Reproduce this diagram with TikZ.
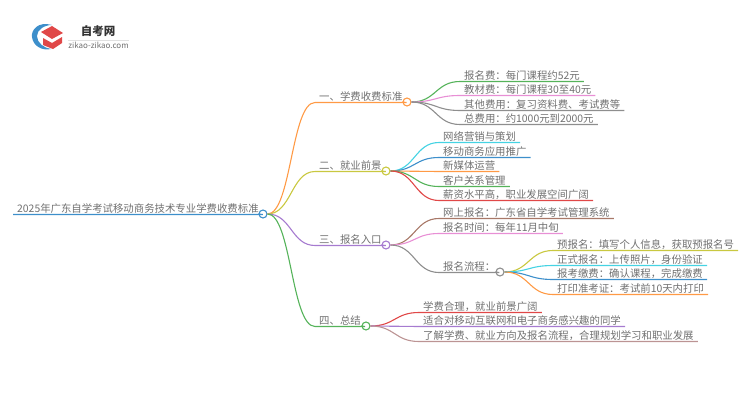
\documentclass[tikz,border=0pt]{standalone}
\usepackage{fontspec}
\setmainfont{Noto Sans CJK SC}
\usetikzlibrary{calc,positioning}

\definecolor{rootblue}{HTML}{3D8FCB}
\definecolor{morange}{HTML}{FF9A45}
\definecolor{molive}{HTML}{C9C840}
\definecolor{mpurple}{HTML}{A67BD0}
\definecolor{mgreen}{HTML}{55B35A}
\definecolor{mpink}{HTML}{E88FD5}
\definecolor{mgray}{HTML}{8E8E8E}
\definecolor{mcyan}{HTML}{45D3E3}
\definecolor{mred}{HTML}{E04848}
\definecolor{mbrown}{HTML}{A87868}
\definecolor{mrose}{HTML}{BC9494}
\definecolor{textgray}{HTML}{707070}

\tikzset{
  topic/.style={anchor=south west,inner xsep=4pt,inner ysep=.8pt,text height=9pt,text depth=1.2pt,
    font=\fontsize{10.4pt}{12pt}\selectfont,text=textgray},
  dotnode/.style={circle,draw=#1,fill=white,line width=1.1pt,minimum size=8pt,inner sep=0pt},
  linkline/.style={draw=#1,line width=1.1pt},
  bendline/.style={to path={let \p1=(\tikztostart),\p2=(\tikztotarget) in
    .. controls (\x1/2+\x2/2,\y1) and (\x1/2+\x2/2,\y2) .. (\tikztotarget)}}
}

\begin{document}
\begin{tikzpicture}[x=1pt,y=-1pt]
  \useasboundingbox (0,0) rectangle (750,410);

  \fill[rootblue] (52,25) .. controls (38,21) and (31,30) .. (32,37)
    .. controls (33,46) and (42,51) .. (51,49) .. controls (44,48) and (37,43) .. (37,36)
    .. controls (37,30) and (44,25) .. (52,25) -- cycle;
  \fill[mred] (41,32) -- (52,26) -- (63,33) -- (52,39) -- cycle;
  \fill[mred] (43,38) -- (52,43) -- (62,37) -- (62,43) -- (53,49) -- (43,45) -- cycle;
  \node[inner sep=0pt,text=black!80,font=\fontsize{11.5pt}{13pt}\selectfont\bfseries] (brand) at (98,31) {自考网};
  \node[inner sep=0pt,text=textgray,font=\fontsize{8pt}{9pt}\selectfont] (site) at (98.5,45) {zikao-zikao.com};
  \draw[black!12,line width=.6pt] ($(site.north west)+(0,-1)$) -- ($(site.north east)+(0,-1)$);

  \node[topic] (root) at (13,214.5) {2025年广东自学考试移动商务技术专业学费收费标准};
  \node[dotnode=rootblue] (rootDot) at (263,214) {};

  \node[topic] (fee) at (315,102.5) {一、学费收费标准};
  \node[dotnode=morange] (feeDot) at (407,102) {};
  \node[topic] (job) at (315,171.5) {二、就业前景};
  \node[dotnode=molive] (jobDot) at (386,171) {};
  \node[topic] (entry) at (315,245.5) {三、报名入口};
  \node[dotnode=mpurple] (entryDot) at (386,245) {};
  \node[topic] (sum) at (315,326.5) {四、总结};
  \node[dotnode=mgreen] (sumDot) at (366,326) {};

  \node[topic] (fee1) at (460,81.5) {报名费：每门课程约52元};
  \node[topic] (fee2) at (460,95.5) {教材费：每门课程30至40元};
  \node[topic] (fee3) at (460,110.5) {其他费用：复习资料费、考试费等};
  \node[topic] (fee4) at (460,124.5) {总费用：约1000元到2000元};

  \node[topic] (job1) at (439,142.5) {网络营销与策划};
  \node[topic] (job2) at (439,157.5) {移动商务应用推广};
  \node[topic] (job3) at (439,171.5) {新媒体运营};
  \node[topic] (job4) at (439,186.5) {客户关系管理};
  \node[topic] (job5) at (439,200.5) {薪资水平高，职业发展空间广阔};

  \node[topic] (entry1) at (439,218.5) {网上报名：广东省自学考试管理系统};
  \node[topic] (entry2) at (439,233.5) {报名时间：每年11月中旬};
  \node[topic] (entry3) at (439,272.5) {报名流程：};
  \node[dotnode=mgray] (flowDot) at (500,272) {};

  \node[topic] (flow1) at (553,250.5) {预报名：填写个人信息，获取预报名号};
  \node[topic] (flow2) at (553,265.5) {正式报名：上传照片，身份验证};
  \node[topic] (flow3) at (553,279.5) {报考缴费：确认课程，完成缴费};
  \node[topic] (flow4) at (553,294.5) {打印准考证：考试前10天内打印};

  \node[topic] (sum1) at (419,312.5) {学费合理，就业前景广阔};
  \node[topic] (sum2) at (419,326.5) {适合对移动互联网和电子商务感兴趣的同学};
  \node[topic] (sum3) at (419,341.5) {了解学费、就业方向及报名流程，合理规划学习和职业发展};

  \draw[linkline=rootblue] (root.south west) -- (root.south east) -- (rootDot.west);

  \draw[linkline=morange] (rootDot.east) to[bendline] (fee.south west) -- (fee.south east) -- (feeDot.west);
  \draw[linkline=molive] (rootDot.east) to[bendline] (job.south west) -- (job.south east) -- (jobDot.west);
  \draw[linkline=mpurple] (rootDot.east) to[bendline] (entry.south west) -- (entry.south east) -- (entryDot.west);
  \draw[linkline=mgreen] (rootDot.east) to[bendline] (sum.south west) -- (sum.south east) -- (sumDot.west);

  \draw[linkline=mgreen] (feeDot.east) to[bendline] (fee1.south west) -- (fee1.south east);
  \draw[linkline=mpink] (feeDot.east) to[bendline] (fee2.south west) -- (fee2.south east);
  \draw[linkline=mgray] (feeDot.east) to[bendline] (fee3.south west) -- (fee3.south east);
  \draw[linkline=mgray] (feeDot.east) to[bendline] (fee4.south west) -- (fee4.south east);

  \draw[linkline=mcyan] (jobDot.east) to[bendline] (job1.south west) -- (job1.south east);
  \draw[linkline=rootblue] (jobDot.east) to[bendline] (job2.south west) -- (job2.south east);
  \draw[linkline=morange] (jobDot.east) to[bendline] (job3.south west) -- (job3.south east);
  \draw[linkline=mgreen] (jobDot.east) to[bendline] (job4.south west) -- (job4.south east);
  \draw[linkline=mred] (jobDot.east) to[bendline] (job5.south west) -- (job5.south east);

  \draw[linkline=mbrown] (entryDot.east) to[bendline] (entry1.south west) -- (entry1.south east);
  \draw[linkline=mpink] (entryDot.east) to[bendline] (entry2.south west) -- (entry2.south east);
  \draw[linkline=mgray] (entryDot.east) to[bendline] (entry3.south west) -- (entry3.south east) -- (flowDot.west);

  \draw[linkline=molive] (flowDot.east) to[bendline] (flow1.south west) -- (flow1.south east);
  \draw[linkline=mcyan] (flowDot.east) to[bendline] (flow2.south west) -- (flow2.south east);
  \draw[linkline=rootblue] (flowDot.east) to[bendline] (flow3.south west) -- (flow3.south east);
  \draw[linkline=morange] (flowDot.east) to[bendline] (flow4.south west) -- (flow4.south east);

  \draw[linkline=mred] (sumDot.east) to[bendline] (sum1.south west) -- (sum1.south east);
  \draw[linkline=mpurple] (sumDot.east) to[bendline] (sum2.south west) -- (sum2.south east);
  \draw[linkline=mrose] (sumDot.east) to[bendline] (sum3.south west) -- (sum3.south east);
\end{tikzpicture}
\end{document}
